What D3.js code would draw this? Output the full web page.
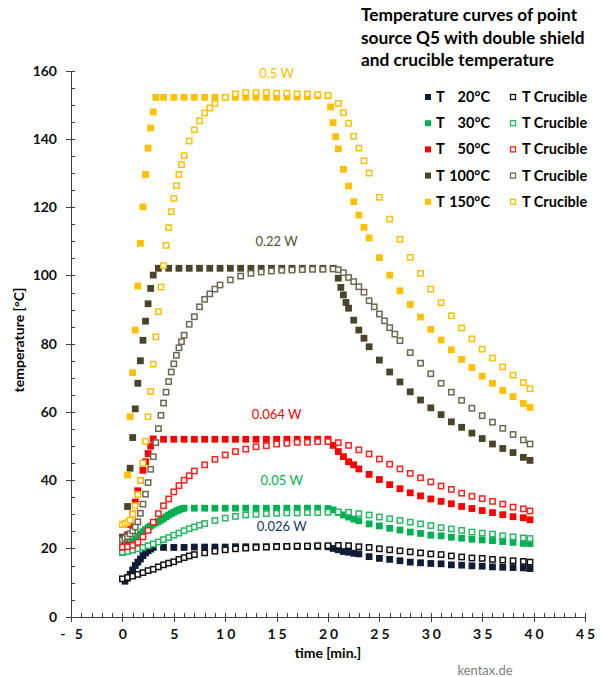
<!DOCTYPE html>
<html lang="en">
  <head>
    <meta charset="UTF-8" />
    <title>Temperature curves of point source Q5</title>
    <script src="https://d3js.org/d3.v7.min.js"></script>
    <style>
      body {
        margin: 0;
        background: #fff;
        font-family: Lato, "Open Sans", sans-serif;
      }
      .axis path,
      .axis line {
        stroke: #404040;
        shape-rendering: crispEdges;
      }
      .axis text {
        font-family: Lato, sans-serif;
        font-weight: bold;
        font-size: 14px;
        fill: #111;
      }
    </style>
  </head>
  <body>
    <script>
      // [time (min), temperature (°C)]
      var t20 = [[0.25,10.4],[0.5,11.3],[0.75,12.4],[1,13.7],[1.25,15.0],[1.5,16.0],[1.75,16.9],[2,17.9],[2.25,18.7],[2.5,19.3],[2.75,19.8],[3,20.3],[4,20.3],[5,20.3],[6,20.3],[7,20.4],[8,20.4],[9,20.4],[10,20.4],[11,20.5],[12,20.5],[13,20.5],[14,20.5],[15,20.6],[16,20.6],[17,20.6],[18,20.6],[19,20.6],[20,20.5],[20.5,20.0],[21,19.6],[21.5,19.1],[22,18.9],[22.5,18.6],[23,18.4],[24,17.6],[25,17.1],[26,16.8],[27,16.4],[28,16.0],[29,15.8],[30,15.6],[31,15.5],[32,15.2],[33,15.1],[34,14.9],[35,14.8],[36,14.6],[37,14.5],[38,14.4],[39,14.3],[39.65,14.1]];
      var c20 = [[0,11.1],[0.5,11.5],[1,11.9],[1.5,12.4],[2,12.9],[2.5,13.5],[3,13.9],[3.5,14.6],[4,15.2],[4.5,15.7],[5,16.1],[5.5,16.8],[6,17.3],[6.5,17.8],[7,18.2],[8,18.7],[9,19.2],[10,19.6],[11,19.9],[12,20.1],[13,20.3],[14,20.4],[15,20.5],[16,20.6],[17,20.7],[18,20.7],[19,20.8],[20,20.8],[21,20.9],[22,20.8],[23,20.5],[24,20.3],[25,19.9],[26,19.6],[27,19.3],[28,19.0],[29,18.7],[30,18.4],[31,18.2],[32,17.8],[33,17.5],[34,17.2],[35,17.1],[36,16.8],[37,16.6],[38,16.4],[39,16.2],[39.65,16.0]];
      var t30 = [[0,18.8],[0.25,19.4],[0.5,20.3],[0.75,21.2],[1,22.0],[1.25,22.7],[1.5,23.5],[1.75,24.2],[2,24.9],[2.25,25.5],[2.5,26.1],[2.75,26.6],[3,27.1],[3.25,27.5],[3.5,27.9],[3.75,28.3],[4,28.8],[4.25,29.3],[4.5,29.8],[4.75,30.2],[5,30.6],[5.25,31.0],[5.5,31.3],[5.75,31.6],[6,31.8],[7,31.8],[8,31.8],[9,31.8],[10,31.8],[11,31.8],[12,31.8],[13,31.8],[14,31.8],[15,31.8],[16,31.8],[17,31.8],[18,31.8],[19,31.8],[20,31.7],[20.5,31.3],[21,30.5],[21.5,29.8],[22,29.2],[22.5,28.6],[23,28.1],[24,27.2],[25,26.6],[26,25.9],[27,25.4],[28,24.8],[29,24.4],[30,23.9],[31,23.7],[32,23.3],[33,23.0],[34,22.7],[35,22.5],[36,22.3],[37,22.0],[38,21.8],[39,21.5],[39.65,21.4]];
      var c30 = [[0,18.9],[0.5,19.1],[1,19.5],[1.5,19.9],[2,20.3],[2.5,20.8],[3,21.3],[3.5,21.9],[4,22.6],[4.5,23.2],[5,23.9],[5.5,24.5],[6,25.2],[6.5,25.8],[7,26.3],[7.5,26.8],[8,27.3],[9,28.2],[10,28.9],[11,29.4],[12,29.8],[13,30.0],[14,30.2],[15,30.3],[16,30.4],[17,30.4],[18,30.5],[19,30.5],[20,30.6],[21,30.7],[22,30.6],[23,30.2],[24,29.8],[25,29.2],[26,28.7],[27,28.2],[28,27.7],[29,27.2],[30,26.7],[31,26.1],[32,25.7],[33,25.3],[34,24.8],[35,24.5],[36,24.2],[37,23.7],[38,23.4],[39,23.1],[39.65,22.9]];
      var t50 = [[0,20.4],[0.25,21.0],[0.5,24.0],[0.75,27.0],[1,30.1],[1.25,33.6],[1.5,36.9],[1.75,39.9],[2,42.9],[2.25,45.4],[2.5,47.8],[2.75,50.0],[3,52.1],[4,52.0],[5,52.0],[6,52.0],[7,52.0],[8,52.0],[9,52.0],[10,52.0],[11,52.0],[12,52.0],[13,52.0],[14,52.0],[15,52.0],[16,52.0],[17,52.0],[18,52.0],[19,52.0],[20,52.0],[20.5,50.2],[21,48.4],[21.5,46.9],[22,45.4],[22.5,44.5],[23,43.3],[24,41.7],[25,40.2],[26,38.7],[27,37.5],[28,36.3],[29,35.4],[30,34.5],[31,33.8],[32,33.1],[33,32.3],[34,31.7],[35,31.1],[36,30.5],[37,29.9],[38,29.3],[39,29.0],[39.65,28.4]];
      var c50 = [[0,20.4],[0.5,20.5],[1,20.9],[1.5,21.8],[2,23.4],[2.5,25.3],[3,27.7],[3.5,30.2],[4,32.5],[4.5,34.5],[5,36.6],[5.5,38.4],[6,40.0],[6.5,41.3],[7,42.7],[8,44.5],[9,46.1],[10,47.4],[11,48.4],[12,49.1],[13,49.8],[14,50.1],[15,50.6],[16,50.8],[17,51.1],[18,51.1],[19,51.3],[20,51.3],[21,51.0],[22,50.2],[23,48.9],[24,47.7],[25,46.2],[26,44.7],[27,43.3],[28,42.0],[29,40.7],[30,39.5],[31,38.3],[32,37.3],[33,36.2],[34,35.3],[35,34.6],[36,33.8],[37,33.0],[38,32.1],[39,31.6],[39.65,31.0]];
      var t100 = [[0,23.3],[0.25,23.3],[0.5,32.3],[0.75,43.5],[1,52.5],[1.25,60.9],[1.5,68.4],[1.75,75.0],[2,81.0],[2.25,86.6],[2.5,91.7],[2.75,96.2],[3,100.1],[3.5,102.1],[4.5,102.1],[5.5,102.1],[6.5,102.1],[7.5,102.1],[8.5,102.1],[9.5,102.1],[10.5,102.1],[11.5,102.1],[12.5,102.1],[13.5,102.1],[14.5,102.1],[15.5,102.1],[16.5,102.1],[17.5,102.1],[18.5,102.1],[19.5,102.1],[20.5,102.1],[21,99.2],[21.25,96.5],[21.5,94.3],[21.75,92.1],[22,90.4],[22.5,86.9],[23,84.0],[23.5,81.6],[24,79.1],[25,75.2],[26,71.7],[27,68.8],[28,65.9],[29,63.5],[30,61.2],[31,59.2],[32,57.1],[33,55.5],[34,53.8],[35,52.2],[36,50.6],[37,49.3],[38,48.1],[39,46.7],[39.65,45.8]];
      var c100 = [[0,22.5],[0.25,23.0],[0.5,23.5],[0.75,24.3],[1,25.2],[1.25,26.3],[1.5,27.8],[1.75,30.3],[2,33.0],[2.25,35.9],[2.5,39.3],[2.75,43.2],[3,46.9],[3.25,51.0],[3.5,55.1],[3.75,59.0],[4,62.6],[4.25,65.8],[4.5,68.9],[4.75,71.7],[5,74.1],[5.25,76.6],[5.5,78.8],[5.75,80.6],[6,82.5],[6.5,85.7],[7,87.9],[7.5,90.8],[8,93.0],[8.5,94.6],[9,96.0],[9.5,97.2],[10.5,98.7],[11.5,99.8],[12.5,100.6],[13.5,101.0],[14.5,101.3],[15.5,101.5],[16.5,101.6],[17.5,101.7],[18.5,101.8],[19.5,101.8],[20.5,101.9],[21,101.7],[21.5,100.8],[22,99.4],[22.5,98.2],[23,96.7],[23.5,95.1],[24,92.6],[24.5,90.8],[25,88.7],[25.5,86.7],[26,84.7],[26.5,82.8],[27,80.9],[28,77.4],[29,74.3],[30,71.2],[31,68.4],[32,65.8],[33,63.4],[34,61.1],[35,58.9],[36,57.0],[37,55.2],[38,53.4],[39,51.8],[39.65,50.6]];
      var t150 = [[0,27.0],[0.25,27.3],[0.5,41.5],[0.75,58.6],[1,71.5],[1.25,84.0],[1.5,96.9],[1.75,109.4],[2,120.1],[2.25,129.6],[2.5,137.3],[2.75,143.2],[3,147.9],[3.25,152.2],[4,152.2],[5,152.2],[6,152.2],[7,152.2],[8,152.2],[9,152.2],[10,152.2],[11,152.2],[12,152.2],[13,152.2],[14,152.2],[15,152.2],[16,152.3],[17,152.3],[18,152.4],[19,152.6],[20,152.6],[20.25,149.4],[20.5,144.8],[20.75,140.7],[21,137.1],[21.5,131.1],[22,126.2],[22.5,121.6],[23,117.7],[23.5,114.1],[24,111.0],[25,105.2],[26,100.1],[27,95.5],[28,91.5],[29,87.8],[30,84.2],[31,81.1],[32,78.2],[33,75.4],[34,73.0],[35,70.5],[36,68.4],[37,66.3],[38,64.5],[39,62.5],[39.65,61.3]];
      var c150 = [[0,27.0],[0.25,27.2],[0.5,27.6],[0.75,28.3],[1,30.0],[1.25,32.5],[1.5,35.8],[1.75,39.9],[2,45.0],[2.25,51.4],[2.5,58.6],[2.75,66.0],[3,74.0],[3.25,82.0],[3.5,89.4],[3.75,96.6],[4,102.9],[4.25,108.8],[4.5,114.0],[4.75,118.7],[5,122.6],[5.25,126.3],[5.5,129.6],[5.75,132.5],[6,135.1],[6.5,139.4],[7,142.7],[7.5,145.3],[8,147.6],[8.5,149.1],[9,150.4],[10,152.2],[11,153.2],[12,153.6],[13,153.6],[14,153.6],[15,153.4],[16,153.4],[17,153.2],[18,153.2],[19,153.0],[20,152.8],[21,150.4],[21.5,147.7],[22,144.6],[22.5,140.8],[23,137.3],[23.5,133.6],[24,130.0],[25,122.9],[26,116.5],[27,110.6],[28,105.3],[29,100.6],[30,96.0],[31,92.0],[32,88.2],[33,84.6],[34,81.4],[35,78.4],[36,75.8],[37,73.2],[38,70.8],[39,68.6],[39.65,66.8]];

      var legendTemps = ["20°C", "30°C", "50°C", "100°C", "150°C"];
      var powerLabels = ["0.026 W", "0.05 W", "0.064 W", "0.22 W", "0.5 W"];
      var labelPos = [[15.5, 25], [15.5, 38.5], [15.0, 58], [15.0, 108.5], [15.0, 158]];
      var xTicks = [-5, 0, 5, 10, 15, 20, 25, 30, 35, 40, 45];
      var yTicks = [0, 20, 40, 60, 80, 100, 120, 140, 160];
      var titleLines = [
        "Temperature curves of point",
        "source Q5 with double shield",
        "and crucible temperature",
      ];

      var groups = [
        { name: "20", fill: t20, hollow: c20, color: "#0f1e36", edge: "#111", label: "#203864" },
        { name: "30", fill: t30, hollow: c30, color: "#00b050", edge: "#26b862", label: "#00b050" },
        { name: "50", fill: t50, hollow: c50, color: "#ff0000", edge: "#ff2020", label: "#ff0000" },
        { name: "100", fill: t100, hollow: c100, color: "#4a4529", edge: "#6d6852", label: "#55513d" },
        { name: "150", fill: t150, hollow: c150, color: "#ffc000", edge: "#ffc000", label: "#ffc000" },
      ];

      var W = 603, H = 677;
      var svg = d3.select("body").append("svg").attr("width", W).attr("height", H);

      var x = d3.scaleLinear().domain([-5, 45]).range([71, 585]);
      var y = d3.scaleLinear().domain([0, 160]).range([616.7, 70.7]);

      // minor ticks (inside)
      svg.append("g")
        .attr("class", "axis")
        .attr("transform", "translate(0," + y(0) + ")")
        .call(d3.axisBottom(x).tickValues(d3.range(-5, 46, 1)).tickSize(-4).tickFormat(""))
        .select(".domain").remove();
      svg.append("g")
        .attr("class", "axis")
        .attr("transform", "translate(" + x(-5) + ",0)")
        .call(d3.axisLeft(y).tickValues(d3.range(0, 161, 5)).tickSize(-4).tickFormat(""))
        .select(".domain").remove();

      // major axes
      var xAxis = svg.append("g")
        .attr("class", "axis")
        .attr("transform", "translate(0," + y(0) + ")")
        .call(d3.axisBottom(x).tickValues(xTicks).tickSizeInner(5).tickSizeOuter(0).tickPadding(7)
          .tickFormat(function (d) { return d < 0 ? "- " + Math.abs(d) : d; }));
      xAxis.selectAll("text").style("letter-spacing", "3px").attr("dx", "1.5px");

      svg.append("g")
        .attr("class", "axis")
        .attr("transform", "translate(" + x(-5) + ",0)")
        .call(d3.axisLeft(y).tickValues(yTicks).tickSizeInner(5).tickSizeOuter(0).tickPadding(9));

      // series: filled then hollow, per group
      var sz = 6.8;
      groups.forEach(function (g) {
        svg.append("g")
          .selectAll("rect")
          .data(g.fill)
          .join("rect")
          .attr("x", function (d) { return x(d[0]) - sz / 2; })
          .attr("y", function (d) { return y(d[1]) - sz / 2; })
          .attr("width", sz)
          .attr("height", sz)
          .attr("fill", g.color);
        svg.append("g")
          .selectAll("rect")
          .data(g.hollow)
          .join("rect")
          .attr("x", function (d) { return x(d[0]) - (sz - 1.5) / 2; })
          .attr("y", function (d) { return y(d[1]) - (sz - 1.5) / 2; })
          .attr("width", sz - 1.5)
          .attr("height", sz - 1.5)
          .attr("fill", "#fff")
          .attr("stroke", g.edge)
          .attr("stroke-width", 1.5);
      });

      // power labels
      groups.forEach(function (g, i) {
        svg.append("text")
          .attr("x", x(labelPos[i][0]))
          .attr("y", y(labelPos[i][1]))
          .attr("text-anchor", "middle")
          .style("font-size", "13px")
          .style("fill", g.label)
          .text(powerLabels[i]);
      });

      // axis titles
      svg.append("text")
        .attr("transform", "translate(24,340) rotate(-90)")
        .attr("text-anchor", "middle")
        .style("font-size", "14px")
        .style("font-weight", "bold")
        .text("temperature [°C]");
      svg.append("text")
        .attr("x", 328)
        .attr("y", 658)
        .attr("text-anchor", "middle")
        .style("font-size", "14px")
        .style("font-weight", "bold")
        .text("time [min.]");

      // title
      svg.append("g")
        .selectAll("text")
        .data(titleLines)
        .join("text")
        .attr("x", 361)
        .attr("y", function (d, i) { return 21 + i * 22.5; })
        .style("font-size", "17.3px")
        .style("font-weight", "bold")
        .text(function (d) { return d; });

      // legend
      var leg = svg.append("g").style("font-size", "14.5px").style("font-weight", "bold");
      groups.forEach(function (g, i) {
        var ly = 97 + i * 26.2;
        leg.append("rect").attr("x", 425).attr("y", ly - 3).attr("width", 6).attr("height", 6).attr("fill", g.color);
        leg.append("text").attr("x", 436).attr("y", ly + 5).text("T");
        leg.append("text").attr("x", 490).attr("y", ly + 5).attr("text-anchor", "end").text(legendTemps[i]);
        leg.append("rect").attr("x", 510.5).attr("y", ly - 2.5).attr("width", 5).attr("height", 5)
          .attr("fill", "#fff").attr("stroke", g.edge).attr("stroke-width", 1.3);
        leg.append("text").attr("x", 522).attr("y", ly + 5).text("T Crucible");
      });

      svg.append("text")
        .attr("x", 485)
        .attr("y", 675)
        .attr("text-anchor", "middle")
        .style("font-size", "13px")
        .style("fill", "#808080")
        .text("kentax.de");
    </script>
  </body>
</html>
